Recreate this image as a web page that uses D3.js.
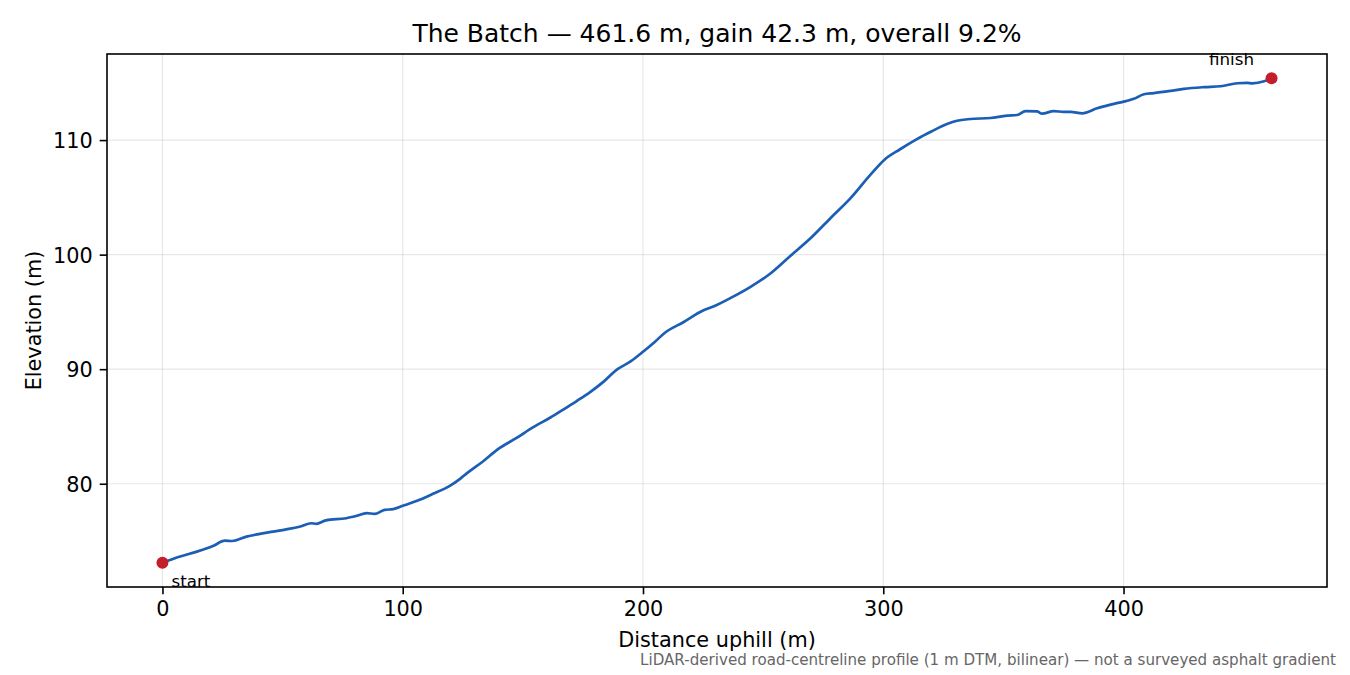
<!DOCTYPE html>
<html>
<head>
<meta charset="utf-8">
<script src="https://cdn.jsdelivr.net/npm/d3@7"></script>
<style>
  body { margin: 0; background: #fff; }
  svg { display: block; font-family: "DejaVu Sans", sans-serif; }
</style>
</head>
<body>
<svg></svg>
<script>
// profile: distance uphill (m) and elevation (m)
const distance = [0, 7, 14, 21, 26, 29, 35, 40, 46, 51.5, 57, 62, 64, 68, 76.5, 80.7, 85, 88.3, 92.5, 96,
  100, 107, 112.6, 119.6, 124, 126.5, 133.5, 139.5, 147.4, 154, 161.3, 167, 172.4, 178, 183.5, 189, 195,
  200, 205, 209, 216.8, 225, 229.3, 236.3, 244.6, 252.9, 261.3, 269.6, 277.9, 286.3, 294.6,
  300.4, 307, 314, 320, 326.5, 330.7, 336.3, 344.6, 351.5, 355.7, 359.2, 364, 366.1, 371, 375.1, 378, 382.8, 389, 396,
  404.3, 408.5, 412.6, 419.6, 425.1, 433.5, 440.4, 447.4, 451.5, 453.6, 458.5, 461.6]
const elevation = [73.1, 73.62, 74.05, 74.56, 75.03, 75.0, 75.38, 75.6, 75.82, 76.02, 76.25, 76.55, 76.5, 76.8, 76.99, 77.19, 77.43, 77.37, 77.72, 77.78,
  78.07, 78.6, 79.12, 79.82, 80.45, 80.88, 81.96, 83.0, 84.0, 84.9, 85.76, 86.5, 87.22, 88.0, 88.89, 89.94, 90.7,
  91.52, 92.4, 93.16, 94.1, 95.12, 95.47, 96.2, 97.17, 98.33, 99.88, 101.4, 103.16, 104.91, 106.96,
  108.27, 109.2, 110.09, 110.75, 111.4, 111.69, 111.84, 111.93, 112.13, 112.19, 112.52, 112.5, 112.31, 112.53, 112.46, 112.46, 112.34, 112.78, 113.16,
  113.6, 114.0, 114.1, 114.3, 114.47, 114.62, 114.7, 114.96, 115.0, 114.95, 115.13, 115.4]
const xTicks = [0, 100, 200, 300, 400]
const yTicks = [80, 90, 100, 110]

const title = 'The Batch \u2014 461.6 m, gain 42.3 m, overall 9.2%'
const xAxisLabel = 'Distance uphill (m)'
const yAxisLabel = 'Elevation (m)'
const note = 'LiDAR-derived road-centreline profile (1 m DTM, bilinear) \u2014 not a surveyed asphalt gradient'

const w = 1350
const h = 675
const margin = {top: 54, right: 23, bottom: 88, left: 107}
const innerWidth = w - margin.left - margin.right
const innerHeight = h - margin.top - margin.bottom

const svg = d3.select('svg')
  .attr('width', w)
  .attr('height', h)

const data = distance.map((d, i) => ({d, e: elevation[i]}))

// matplotlib-style 5% padding on both axes
const xExt = d3.extent(distance), yExt = d3.extent(elevation)
const xPad = (xExt[1] - xExt[0]) * 0.05, yPad = (yExt[1] - yExt[0]) * 0.05

const xScale = d3.scaleLinear()
  .domain([xExt[0] - xPad, xExt[1] + xPad])
  .range([0, innerWidth])

const yScale = d3.scaleLinear()
  .domain([yExt[0] - yPad, yExt[1] + yPad])
  .range([innerHeight, 0])

const g = svg.append('g')
  .attr('transform', `translate(${margin.left}, ${margin.top})`)

// grid
g.append('g').selectAll('line').data(xTicks)
  .enter().append('line')
  .attr('x1', d => xScale(d)).attr('x2', d => xScale(d))
  .attr('y1', 0).attr('y2', innerHeight)
  .attr('stroke', '#b0b0b0').attr('stroke-opacity', 0.3).attr('stroke-width', 1.2)

g.append('g').selectAll('line').data(yTicks)
  .enter().append('line')
  .attr('y1', d => yScale(d)).attr('y2', d => yScale(d))
  .attr('x1', 0).attr('x2', innerWidth)
  .attr('stroke', '#b0b0b0').attr('stroke-opacity', 0.3).attr('stroke-width', 1.2)

// axes
const xAxisG = g.append('g')
  .attr('transform', `translate(0, ${innerHeight})`)
  .call(d3.axisBottom(xScale).tickValues(xTicks).tickFormat(d3.format('d')).tickSizeInner(7.3).tickSizeOuter(0).tickPadding(7))

const yAxisG = g.append('g')
  .call(d3.axisLeft(yScale).tickValues(yTicks).tickFormat(d3.format('d')).tickSizeInner(7.3).tickSizeOuter(0).tickPadding(7))

svg.selectAll('.domain').remove()
svg.selectAll('.tick line').attr('stroke', '#000').attr('stroke-width', 1.6)
svg.selectAll('.tick text')
  .attr('fill', '#000')
  .attr('font-size', '20.8px')
  .attr('font-family', '"DejaVu Sans", sans-serif')
yAxisG.selectAll('.tick text').attr('dy', '0.36em')

// frame
g.append('rect')
  .attr('width', innerWidth).attr('height', innerHeight)
  .attr('fill', 'none').attr('stroke', '#000').attr('stroke-width', 1.6)

// profile line
const line = d3.line()
  .x(d => xScale(d.d))
  .y(d => yScale(d.e))
  .curve(d3.curveMonotoneX)

g.append('path')
  .datum(data)
  .attr('d', line)
  .attr('fill', 'none')
  .attr('stroke', '#1b5eb5')
  .attr('stroke-width', 2.7)
  .attr('stroke-linejoin', 'round')
  .attr('stroke-linecap', 'round')

// end markers
const ends = [data[0], data[data.length - 1]]
g.selectAll('circle').data(ends)
  .enter().append('circle')
  .attr('cx', d => xScale(d.d))
  .attr('cy', d => yScale(d.e))
  .attr('r', 6)
  .attr('fill', '#c41e2a')

g.append('text')
  .attr('x', xScale(ends[0].d) + 9)
  .attr('y', yScale(ends[0].e) + 24)
  .attr('font-size', '16.7px')
  .attr('fill', '#000')
  .text('start')

g.append('text')
  .attr('x', xScale(ends[1].d) - 40)
  .attr('y', yScale(ends[1].e) - 13)
  .attr('text-anchor', 'middle')
  .attr('font-size', '16.7px')
  .attr('fill', '#000')
  .text('finish')

// labels
svg.append('text')
  .attr('x', margin.left + innerWidth / 2)
  .attr('y', 42)
  .attr('text-anchor', 'middle')
  .attr('font-size', '25px')
  .text(title)

svg.append('text')
  .attr('x', margin.left + innerWidth / 2)
  .attr('y', 647)
  .attr('text-anchor', 'middle')
  .attr('font-size', '20.8px')
  .text(xAxisLabel)

svg.append('text')
  .attr('transform', `translate(41, ${margin.top + innerHeight / 2}) rotate(-90)`)
  .attr('text-anchor', 'middle')
  .attr('font-size', '20.8px')
  .text(yAxisLabel)

svg.append('text')
  .attr('x', 1336)
  .attr('y', 665)
  .attr('text-anchor', 'end')
  .attr('font-size', '15.1px')
  .attr('fill', '#666')
  .text(note)
</script>
</body>
</html>
